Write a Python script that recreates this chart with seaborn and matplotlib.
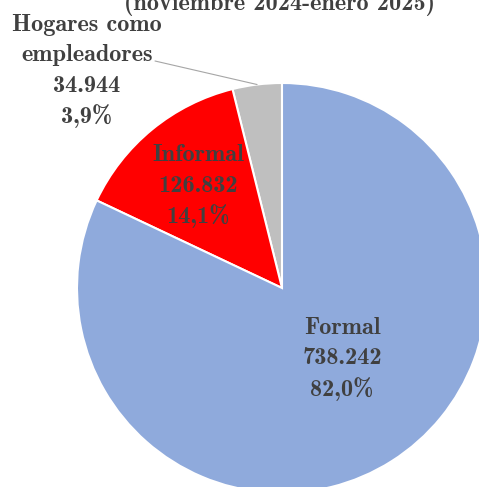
import numpy as np
import matplotlib
matplotlib.use("Agg")
import matplotlib.pyplot as plt
import seaborn as sns

# datos
categorias = ["Hogares como\nempleadores", "Informal", "Formal"]
valores = [34944, 126832, 738242]
colores = ["#BFBFBF", "#FF0000", "#8FAADC"]
titulo = "(noviembre 2024-enero 2025)"

sns.set_style("white")
fuente = ["cmb10", "DejaVu Serif"]
gris = "#404040"


def fmt_miles(v):
    return f"{v:,}".replace(",", ".")


def fmt_pct(p):
    return f"{p:.1f}%".replace(".", ",")


W, H = 479, 487
fig = plt.figure(figsize=(W / 100, H / 100), dpi=100)
ax = fig.add_axes([0, 0, 1, 1])

cx, cy, r = 282, H - 288, 205
wedges, _ = ax.pie(valores, colors=colores, startangle=90, counterclock=True,
                   center=(cx, cy), radius=r, frame=True,
                   wedgeprops=dict(edgecolor="white", linewidth=1.5))
ax.set_xlim(0, W)
ax.set_ylim(0, H)
ax.set_aspect("equal")
ax.axis("off")

total = sum(valores)
pct = [v / total * 100 for v in valores]

# etiquetas (posiciones en pixeles)
pos = [(87, H - 25), (198, H - 155), (342, H - 328)]
for cat, v, p, (x, y) in zip(categorias, valores, pct, pos):
    lineas = cat.split("\n") + [fmt_miles(v), fmt_pct(p)]
    for i, t in enumerate(lineas):
        ax.text(x, y - i * 30.5, t, ha="center", va="center", fontsize=17.5,
                family=fuente, color=gris)

# linea guia para hogares
w = wedges[0]
ang = np.deg2rad((w.theta1 + w.theta2) / 2)
ax.plot([155, cx + r * np.cos(ang)], [H - 61, cy + r * np.sin(ang)],
        color="#A6A6A6", lw=0.8)

# titulo cortado en el borde superior, como en la referencia
ax.text(280, H - 10, titulo, ha="center", va="baseline", fontsize=17.5,
        family=fuente, color=gris, clip_on=False)

fig.savefig("out.png", dpi=100)
